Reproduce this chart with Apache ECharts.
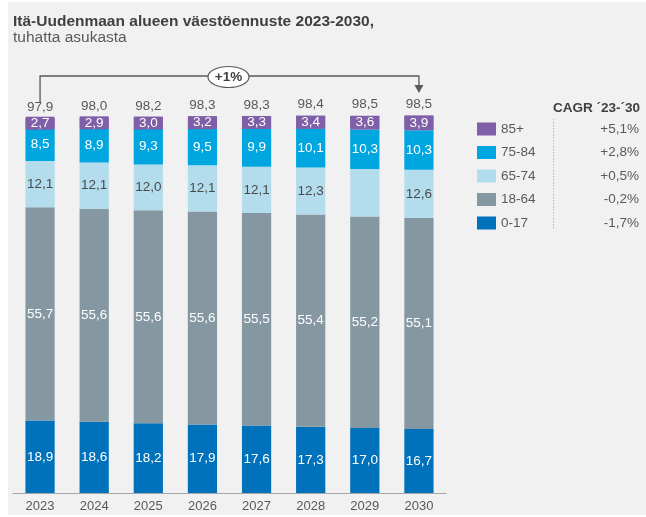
<!DOCTYPE html>
<html>
<head>
<meta charset="utf-8">
<script src="https://cdn.jsdelivr.net/npm/echarts@6/dist/echarts.min.js"></script>
<style>
  html, body { margin: 0; padding: 0; background: #fff; }
  #main { width: 646px; height: 517px; }
</style>
</head>
<body>
<div id="main"></div>
<script>
// vuodet
var years = ["2023", "2024", "2025", "2026", "2027", "2028", "2029", "2030"];
// ikäryhmät, tuhatta asukasta
var age0_17 = [18.9, 18.6, 18.2, 17.9, 17.6, 17.3, 17.0, 16.7];
var age18_64 = [55.7, 55.6, 55.6, 55.6, 55.5, 55.4, 55.2, 55.1];
var age65_74 = [12.1, 12.1, 12.0, 12.1, 12.1, 12.3, 12.4, 12.6];
var age75_84 = [8.5, 8.9, 9.3, 9.5, 9.9, 10.1, 10.3, 10.3];
var age85 = [2.7, 2.9, 3.0, 3.2, 3.3, 3.4, 3.6, 3.9];
var totals = [97.9, 98.0, 98.2, 98.3, 98.3, 98.4, 98.5, 98.5];
// 2029 arvoa ei näytetä kuvassa
var hidden65_74 = [false, false, false, false, false, false, true, false];
var groups = ["85+", "75-84", "65-74", "18-64", "0-17"];
var cagr = ["+5,1%", "+2,8%", "+0,5%", "-0,2%", "-1,7%"];

var fmt = function (v) { return v.toFixed(1).replace(".", ","); };
var FONT = "Liberation Sans, Arial";

var chart = echarts.init(document.getElementById("main"));

function seg(name, data, color, textColor, hidden, boxed) {
  var label = {
    show: true,
    position: "inside",
    color: textColor,
    fontSize: 13.5,
    fontFamily: FONT,
    formatter: function (p) {
      if (hidden && hidden[p.dataIndex]) return "";
      return fmt(p.value);
    }
  };
  if (boxed) {
    // pieni segmentti: tekstin taustalaatikko kuten alkuperäisessä
    label.backgroundColor = color;
    label.padding = [0, 5, 0, 5];
    label.lineHeight = 13;
  }
  return {
    name: name,
    type: "bar",
    stack: "all",
    barWidth: "54%",
    data: data,
    itemStyle: { color: color },
    label: label
  };
}

chart.setOption({
  backgroundColor: "#fff",
  animation: false,
  title: {
    text: "Itä-Uudenmaan alueen väestöennuste 2023-2030,",
    subtext: "tuhatta asukasta",
    left: 8,
    top: 9,
    itemGap: 0,
    textStyle: { fontSize: 15.5, fontWeight: "bold", color: "#404040", fontFamily: FONT },
    subtextStyle: { fontSize: 15.5, color: "#595959", fontFamily: FONT }
  },
  grid: { left: 13, right: 200, top: 110, bottom: 24 },
  legend: {
    orient: "vertical",
    left: 477,
    top: 122,
    padding: 0,
    itemWidth: 19,
    itemHeight: 13,
    itemGap: 9.5,
    selectedMode: false,
    data: groups.map(function (g) { return { name: g, icon: "rect" }; }),
    formatter: function (name) {
      return "{n|" + name + "}{v|" + cagr[groups.indexOf(name)] + "}";
    },
    textStyle: {
      color: "#595959",
      fontSize: 13.5,
      fontFamily: FONT,
      rich: {
        n: { width: 50, fontSize: 13.5, color: "#595959" },
        v: { width: 88, align: "right", fontSize: 13.5, color: "#595959" }
      }
    }
  },
  xAxis: {
    type: "category",
    data: years,
    axisLine: { lineStyle: { color: "#a6a6a6", width: 1 } },
    axisTick: { show: false },
    axisLabel: { color: "#595959", fontSize: 13, margin: 7, fontFamily: FONT }
  },
  yAxis: { type: "value", min: 0, max: 100, show: false, splitLine: { show: false } },
  series: [
    seg("0-17", age0_17, "#0071bb", "#fff"),
    seg("18-64", age18_64, "#8598a2", "#fff"),
    seg("65-74", age65_74, "#b3dcec", "#4a4a4a", hidden65_74),
    seg("75-84", age75_84, "#00a6df", "#fff"),
    seg("85+", age85, "#7f5fa8", "#fff", null, true),
    {
      name: "total",
      type: "bar",
      stack: "all",
      barWidth: "54%",
      data: totals.map(function () { return 0; }),
      itemStyle: { color: "transparent" },
      label: {
        show: true,
        position: "top",
        distance: 4,
        color: "#595959",
        fontSize: 13.5,
        fontFamily: FONT,
        formatter: function (p) { return fmt(totals[p.dataIndex]); }
      }
    }
  ]
});

// merkinnät: tausta, +1% -nuoli, CAGR-otsikko
var x0 = chart.convertToPixel({ xAxisIndex: 0 }, years[0]);
var x1 = chart.convertToPixel({ xAxisIndex: 0 }, years[years.length - 1]);
var lineY = 76;
var mid = (x0 + x1) / 2 - 1;
var lineStyle = { stroke: "#595959", lineWidth: 1.3, fill: null };

chart.setOption({
  graphic: [
    { type: "rect", silent: true, z: -100, shape: { x: 8, y: 2, width: 638, height: 513 }, style: { fill: "#f1f1f1" } },
    { type: "polyline", silent: true, shape: { points: [[x0, 103], [x0, lineY], [x1, lineY], [x1, 86]] }, style: lineStyle },
    { type: "polygon", silent: true, shape: { points: [[x1 - 4.5, 85], [x1 + 4.5, 85], [x1, 93]] }, style: { fill: "#595959" } },
    { type: "ellipse", silent: true, shape: { cx: mid, cy: lineY + 1, rx: 20.5, ry: 10.5 }, style: { fill: "#fff", stroke: "#595959", lineWidth: 1.2 } },
    { type: "text", silent: true, x: mid, y: lineY + 1, style: { text: "+1%", fill: "#404040", font: "bold 13.5px Liberation Sans, Arial", align: "center", verticalAlign: "middle" } },
    { type: "text", silent: true, x: 640, y: 108, style: { text: "CAGR \u00b423-\u00b430", fill: "#404040", font: "bold 13.5px Liberation Sans, Arial", align: "right", verticalAlign: "middle" } },
    { type: "line", silent: true, shape: { x1: 553.5, y1: 119, x2: 553.5, y2: 230 }, style: { stroke: "#b0b8bc", lineWidth: 1, lineDash: [1.5, 1.5] } }
  ]
});
</script>
</body>
</html>
